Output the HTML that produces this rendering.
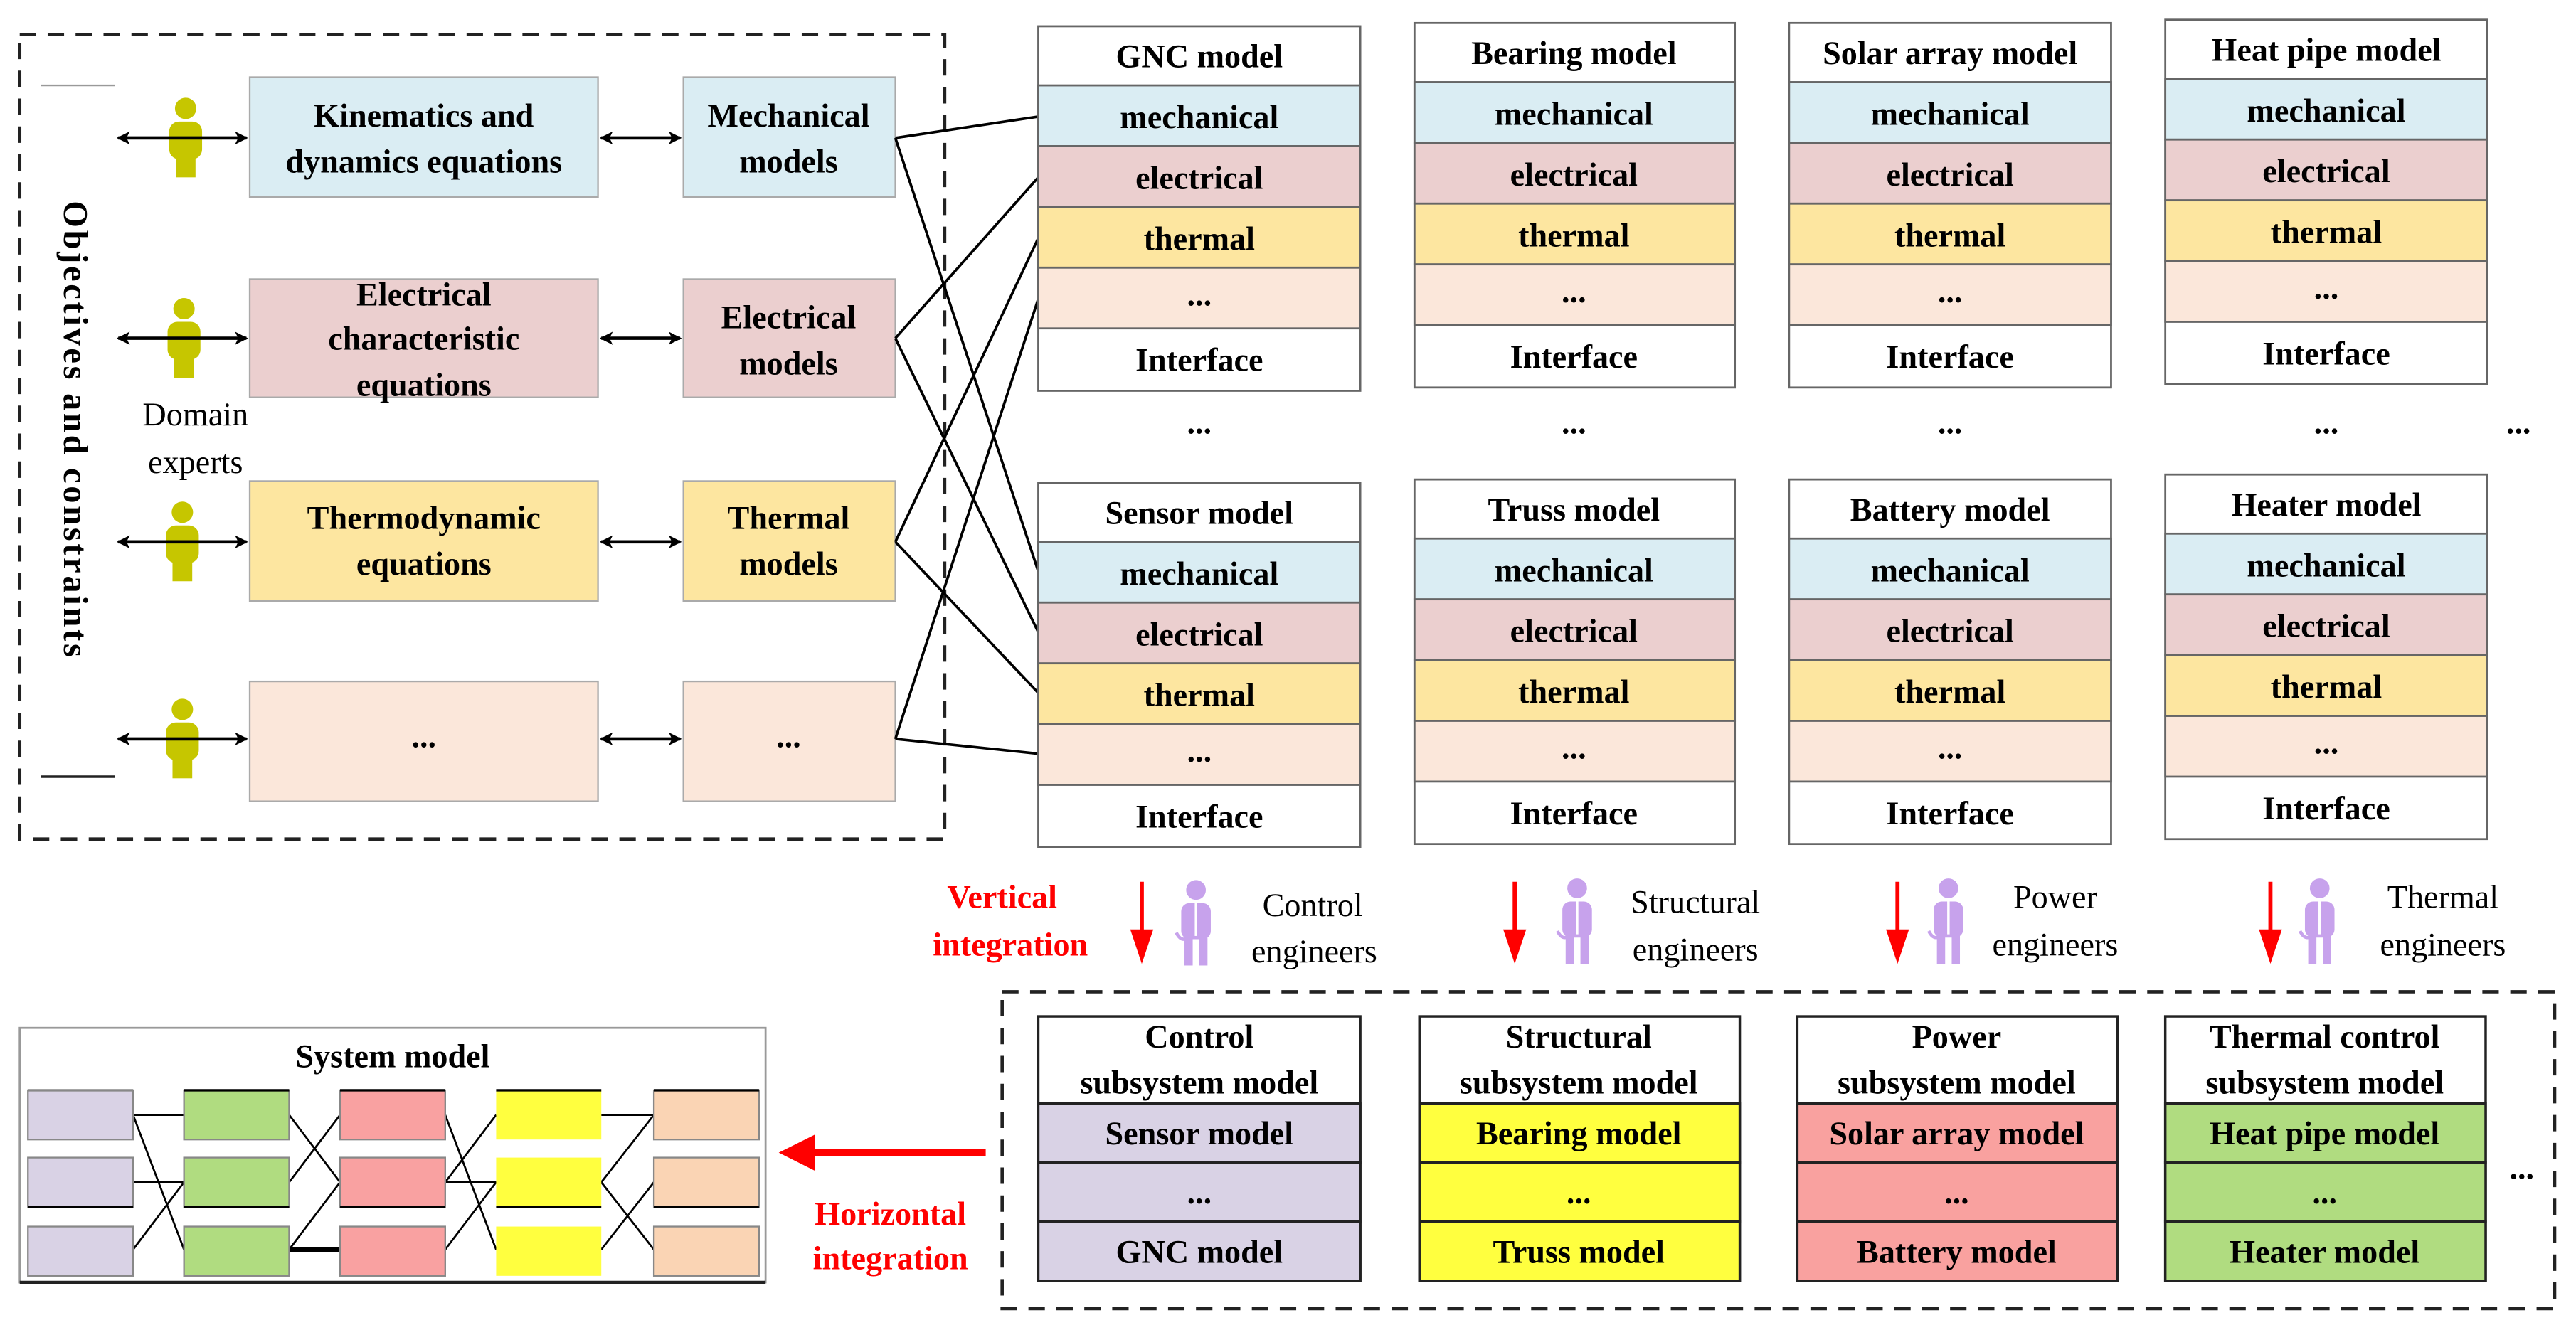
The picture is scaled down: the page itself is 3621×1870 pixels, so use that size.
<!DOCTYPE html>
<html><head><meta charset="utf-8"><style>
html,body{margin:0;padding:0;background:#fff;}
svg{display:block;}
text{font-family:"Liberation Serif",serif;}
.b{font-weight:bold;font-size:20px;text-anchor:middle;}
.n{font-size:20px;text-anchor:middle;}
</style></head><body>
<svg width="3621" height="1870" viewBox="0 0 1568 810" preserveAspectRatio="none" xmlns="http://www.w3.org/2000/svg">
<defs>
<marker id="ah" markerWidth="8" markerHeight="8" refX="7" refY="4" orient="auto" markerUnits="userSpaceOnUse"><path d="M0,0 L8,4 L0,8 L2,4z" fill="#000"/></marker>
<marker id="ahs" markerWidth="8" markerHeight="8" refX="1" refY="4" orient="auto" markerUnits="userSpaceOnUse"><path d="M8,0 L0,4 L8,8 L6,4z" fill="#000"/></marker>
<g id="person"><circle cx="0" cy="-18" r="6.5"/><rect x="-10" y="-10" width="20" height="23" rx="6"/><rect x="-6" y="8" width="12" height="16"/></g>
<g id="eng"><circle cx="0" cy="-20" r="6"/><rect x="-9" y="-12" width="18" height="22" rx="5"/><rect x="-7" y="8" width="5" height="18"/><rect x="2" y="8" width="5" height="18"/><path d="M-12,6 q4,8 10,0" stroke="#c7a2ec" stroke-width="2" fill="none"/><line x1="0" y1="-12" x2="0" y2="8" stroke="#fff" stroke-width="1.5"/></g>
</defs>

<rect x="12" y="21" width="563" height="490" fill="none" stroke="#222" stroke-width="2" stroke-dasharray="10,7"/>
<line x1="25" y1="52" x2="70" y2="52" stroke="#999" stroke-width="1"/>
<line x1="25" y1="473" x2="70" y2="473" stroke="#222" stroke-width="1.5"/>
<text transform="translate(39,262) rotate(90)" style="font-weight:bold;font-size:21px;text-anchor:middle;letter-spacing:1.6px">Objectives and constraints</text>

<g fill="#c6c600">
<use href="#person" x="113" y="84"/><use href="#person" x="112" y="206"/><use href="#person" x="111" y="330"/><use href="#person" x="111" y="450"/>
</g>
<g stroke="#000" stroke-width="2">
<line x1="72" y1="84" x2="150" y2="84" marker-start="url(#ahs)" marker-end="url(#ah)"/>
<line x1="72" y1="206" x2="150" y2="206" marker-start="url(#ahs)" marker-end="url(#ah)"/>
<line x1="72" y1="330" x2="150" y2="330" marker-start="url(#ahs)" marker-end="url(#ah)"/>
<line x1="72" y1="450" x2="150" y2="450" marker-start="url(#ahs)" marker-end="url(#ah)"/>
<line x1="366" y1="84" x2="414" y2="84" marker-start="url(#ahs)" marker-end="url(#ah)"/>
<line x1="366" y1="206" x2="414" y2="206" marker-start="url(#ahs)" marker-end="url(#ah)"/>
<line x1="366" y1="330" x2="414" y2="330" marker-start="url(#ahs)" marker-end="url(#ah)"/>
<line x1="366" y1="450" x2="414" y2="450" marker-start="url(#ahs)" marker-end="url(#ah)"/>
</g>
<text x="119" y="259" class="n">Domain</text>
<text x="119" y="288" class="n">experts</text>

<g stroke="#aaa" stroke-width="1">
<rect x="152" y="47" width="212" height="73" fill="#daedf3"/>
<rect x="416" y="47" width="129" height="73" fill="#daedf3"/>
<rect x="152" y="170" width="212" height="72" fill="#ebcfcf"/>
<rect x="416" y="170" width="129" height="72" fill="#ebcfcf"/>
<rect x="152" y="293" width="212" height="73" fill="#fde6a0"/>
<rect x="416" y="293" width="129" height="73" fill="#fde6a0"/>
<rect x="152" y="415" width="212" height="73" fill="#fbe7da"/>
<rect x="416" y="415" width="129" height="73" fill="#fbe7da"/>
</g>
<text x="258" y="77" class="b">Kinematics and</text>
<text x="258" y="105" class="b">dynamics equations</text>
<text x="480" y="77" class="b">Mechanical</text>
<text x="480" y="105" class="b">models</text>
<text x="258" y="186" class="b">Electrical</text>
<text x="258" y="213" class="b">characteristic</text>
<text x="258" y="241" class="b">equations</text>
<text x="480" y="200" class="b">Electrical</text>
<text x="480" y="228" class="b">models</text>
<text x="258" y="322" class="b">Thermodynamic</text>
<text x="258" y="350" class="b">equations</text>
<text x="480" y="322" class="b">Thermal</text>
<text x="480" y="350" class="b">models</text>
<text x="258" y="455" class="b">...</text>
<text x="480" y="455" class="b">...</text>

<g stroke="#000" stroke-width="1.6">
<line x1="545" y1="84" x2="632" y2="71"/>
<line x1="545" y1="84" x2="632" y2="348"/>
<line x1="545" y1="206" x2="632" y2="108"/>
<line x1="545" y1="206" x2="632" y2="385"/>
<line x1="545" y1="330" x2="632" y2="145"/>
<line x1="545" y1="330" x2="632" y2="422"/>
<line x1="545" y1="450" x2="632" y2="182"/>
<line x1="545" y1="450" x2="632" y2="459"/>
</g>

<g stroke="#666" stroke-width="1.2">
<g transform="translate(632,16)"><rect width="196" height="222" fill="#fff"/><rect y="36" width="196" height="37" fill="#daedf3"/><rect y="73" width="196" height="37" fill="#ebcfcf"/><rect y="110" width="196" height="37" fill="#fde6a0"/><rect y="147" width="196" height="37" fill="#fbe7da"/></g>
<g transform="translate(861,14)"><rect width="195" height="222" fill="#fff"/><rect y="36" width="195" height="37" fill="#daedf3"/><rect y="73" width="195" height="37" fill="#ebcfcf"/><rect y="110" width="195" height="37" fill="#fde6a0"/><rect y="147" width="195" height="37" fill="#fbe7da"/></g>
<g transform="translate(1089,14)"><rect width="196" height="222" fill="#fff"/><rect y="36" width="196" height="37" fill="#daedf3"/><rect y="73" width="196" height="37" fill="#ebcfcf"/><rect y="110" width="196" height="37" fill="#fde6a0"/><rect y="147" width="196" height="37" fill="#fbe7da"/></g>
<g transform="translate(1318,12)"><rect width="196" height="222" fill="#fff"/><rect y="36" width="196" height="37" fill="#daedf3"/><rect y="73" width="196" height="37" fill="#ebcfcf"/><rect y="110" width="196" height="37" fill="#fde6a0"/><rect y="147" width="196" height="37" fill="#fbe7da"/></g>
<g transform="translate(632,294)"><rect width="196" height="222" fill="#fff"/><rect y="36" width="196" height="37" fill="#daedf3"/><rect y="73" width="196" height="37" fill="#ebcfcf"/><rect y="110" width="196" height="37" fill="#fde6a0"/><rect y="147" width="196" height="37" fill="#fbe7da"/></g>
<g transform="translate(861,292)"><rect width="195" height="222" fill="#fff"/><rect y="36" width="195" height="37" fill="#daedf3"/><rect y="73" width="195" height="37" fill="#ebcfcf"/><rect y="110" width="195" height="37" fill="#fde6a0"/><rect y="147" width="195" height="37" fill="#fbe7da"/></g>
<g transform="translate(1089,292)"><rect width="196" height="222" fill="#fff"/><rect y="36" width="196" height="37" fill="#daedf3"/><rect y="73" width="196" height="37" fill="#ebcfcf"/><rect y="110" width="196" height="37" fill="#fde6a0"/><rect y="147" width="196" height="37" fill="#fbe7da"/></g>
<g transform="translate(1318,289)"><rect width="196" height="222" fill="#fff"/><rect y="36" width="196" height="37" fill="#daedf3"/><rect y="73" width="196" height="37" fill="#ebcfcf"/><rect y="110" width="196" height="37" fill="#fde6a0"/><rect y="147" width="196" height="37" fill="#fbe7da"/></g>
</g>
<g>
<g transform="translate(730,16)"><text y="25" class="b">GNC model</text><text y="62" class="b">mechanical</text><text y="99" class="b">electrical</text><text y="136" class="b">thermal</text><text y="170" class="b">...</text><text y="210" class="b">Interface</text></g>
<g transform="translate(958,14)"><text y="25" class="b">Bearing model</text><text y="62" class="b">mechanical</text><text y="99" class="b">electrical</text><text y="136" class="b">thermal</text><text y="170" class="b">...</text><text y="210" class="b">Interface</text></g>
<g transform="translate(1187,14)"><text y="25" class="b">Solar array model</text><text y="62" class="b">mechanical</text><text y="99" class="b">electrical</text><text y="136" class="b">thermal</text><text y="170" class="b">...</text><text y="210" class="b">Interface</text></g>
<g transform="translate(1416,12)"><text y="25" class="b">Heat pipe model</text><text y="62" class="b">mechanical</text><text y="99" class="b">electrical</text><text y="136" class="b">thermal</text><text y="170" class="b">...</text><text y="210" class="b">Interface</text></g>
<g transform="translate(730,294)"><text y="25" class="b">Sensor model</text><text y="62" class="b">mechanical</text><text y="99" class="b">electrical</text><text y="136" class="b">thermal</text><text y="170" class="b">...</text><text y="210" class="b">Interface</text></g>
<g transform="translate(958,292)"><text y="25" class="b">Truss model</text><text y="62" class="b">mechanical</text><text y="99" class="b">electrical</text><text y="136" class="b">thermal</text><text y="170" class="b">...</text><text y="210" class="b">Interface</text></g>
<g transform="translate(1187,292)"><text y="25" class="b">Battery model</text><text y="62" class="b">mechanical</text><text y="99" class="b">electrical</text><text y="136" class="b">thermal</text><text y="170" class="b">...</text><text y="210" class="b">Interface</text></g>
<g transform="translate(1416,289)"><text y="25" class="b">Heater model</text><text y="62" class="b">mechanical</text><text y="99" class="b">electrical</text><text y="136" class="b">thermal</text><text y="170" class="b">...</text><text y="210" class="b">Interface</text></g>
</g>
<text x="730" y="264" class="b">...</text><text x="958" y="264" class="b">...</text><text x="1187" y="264" class="b">...</text><text x="1416" y="264" class="b">...</text><text x="1533" y="264" class="b">...</text>

<text x="610" y="553" class="b" style="fill:#f00">Vertical</text>
<text x="615" y="582" class="b" style="fill:#f00">integration</text>
<g fill="#f00" stroke="#f00" stroke-width="2.5">
<line x1="695" y1="537" x2="695" y2="568"/><path d="M688,566 L702,566 L695,587z" stroke="none"/>
<line x1="922" y1="537" x2="922" y2="568"/><path d="M915,566 L929,566 L922,587z" stroke="none"/>
<line x1="1155" y1="537" x2="1155" y2="568"/><path d="M1148,566 L1162,566 L1155,587z" stroke="none"/>
<line x1="1382" y1="537" x2="1382" y2="568"/><path d="M1375,566 L1389,566 L1382,587z" stroke="none"/>
</g>
<g fill="#c7a2ec">
<use href="#eng" x="728" y="562"/><use href="#eng" x="960" y="561"/><use href="#eng" x="1186" y="561"/><use href="#eng" x="1412" y="561"/>
</g>
<text x="799" y="558" class="n">Control</text><text x="800" y="586" class="n">engineers</text>
<text x="1032" y="556" class="n">Structural</text><text x="1032" y="585" class="n">engineers</text>
<text x="1251" y="553" class="n">Power</text><text x="1251" y="582" class="n">engineers</text>
<text x="1487" y="553" class="n">Thermal</text><text x="1487" y="582" class="n">engineers</text>

<rect x="610" y="604" width="945" height="193" fill="none" stroke="#222" stroke-width="2" stroke-dasharray="10,7"/>
<g stroke="#222" stroke-width="1.5">
<g transform="translate(632,619)"><rect width="196" height="161" fill="#fff"/><rect y="53" width="196" height="36" fill="#d9d2e5"/><rect y="89" width="196" height="36" fill="#d9d2e5"/><rect y="125" width="196" height="36" fill="#d9d2e5"/></g>
<g transform="translate(864,619)"><rect width="195" height="161" fill="#fff"/><rect y="53" width="195" height="36" fill="#ffff3f"/><rect y="89" width="195" height="36" fill="#ffff3f"/><rect y="125" width="195" height="36" fill="#ffff3f"/></g>
<g transform="translate(1094,619)"><rect width="195" height="161" fill="#fff"/><rect y="53" width="195" height="36" fill="#f9a19f"/><rect y="89" width="195" height="36" fill="#f9a19f"/><rect y="125" width="195" height="36" fill="#f9a19f"/></g>
<g transform="translate(1318,619)"><rect width="195" height="161" fill="#fff"/><rect y="53" width="195" height="36" fill="#b0dc80"/><rect y="89" width="195" height="36" fill="#b0dc80"/><rect y="125" width="195" height="36" fill="#b0dc80"/></g>
</g>
<g transform="translate(730,619)"><text y="19" class="b">Control</text><text y="47" class="b">subsystem model</text><text y="78" class="b">Sensor model</text><text y="114" class="b">...</text><text y="150" class="b">GNC model</text></g>
<g transform="translate(961,619)"><text y="19" class="b">Structural</text><text y="47" class="b">subsystem model</text><text y="78" class="b">Bearing model</text><text y="114" class="b">...</text><text y="150" class="b">Truss model</text></g>
<g transform="translate(1191,619)"><text y="19" class="b">Power</text><text y="47" class="b">subsystem model</text><text y="78" class="b">Solar array model</text><text y="114" class="b">...</text><text y="150" class="b">Battery model</text></g>
<g transform="translate(1415,619)"><text y="19" class="b">Thermal control</text><text y="47" class="b">subsystem model</text><text y="78" class="b">Heat pipe model</text><text y="114" class="b">...</text><text y="150" class="b">Heater model</text></g>
<text x="1535" y="718" class="b">...</text>

<line x1="600" y1="702" x2="492" y2="702" stroke="#f00" stroke-width="4"/>
<path d="M474,702 L496,691 L496,713z" fill="#f00"/>
<text x="542" y="746" class="b" style="fill:#f00">Horizontal</text>
<text x="542" y="773" class="b" style="fill:#f00">integration</text>

<rect x="12" y="626" width="454" height="155" fill="#fff" stroke="#999" stroke-width="1.2"/>
<line x1="12" y1="781" x2="466" y2="781" stroke="#222" stroke-width="2"/>
<text x="239" y="650" class="b">System model</text>
<g stroke="#000" stroke-width="1.2">
<line x1="81" y1="679" x2="112" y2="679"/><line x1="81" y1="679" x2="112" y2="761"/><line x1="81" y1="720" x2="112" y2="720"/><line x1="81" y1="761" x2="112" y2="720"/>
<line x1="176" y1="679" x2="207" y2="720"/><line x1="176" y1="720" x2="207" y2="679"/><line x1="176" y1="761" x2="207" y2="720"/><line x1="176" y1="761" x2="207" y2="761" stroke-width="3"/>
<line x1="271" y1="679" x2="302" y2="761"/><line x1="271" y1="720" x2="302" y2="679"/><line x1="271" y1="720" x2="302" y2="720"/><line x1="271" y1="761" x2="302" y2="720"/>
<line x1="366" y1="679" x2="398" y2="679"/><line x1="366" y1="720" x2="398" y2="679"/><line x1="366" y1="720" x2="398" y2="761"/><line x1="366" y1="761" x2="398" y2="720"/>
</g>
<g stroke="#888" stroke-width="1">
<rect x="17" y="664" width="64" height="30" fill="#d9d2e5"/><rect x="17" y="705" width="64" height="30" fill="#d9d2e5"/><rect x="17" y="747" width="64" height="30" fill="#d9d2e5"/>
<rect x="112" y="664" width="64" height="30" fill="#b0dc80"/><rect x="112" y="705" width="64" height="30" fill="#b0dc80"/><rect x="112" y="747" width="64" height="30" fill="#b0dc80"/>
<rect x="207" y="664" width="64" height="30" fill="#f9a1a1"/><rect x="207" y="705" width="64" height="30" fill="#f9a1a1"/><rect x="207" y="747" width="64" height="30" fill="#f9a1a1"/>
<rect x="302" y="664" width="64" height="30" fill="#ffff3f" stroke="none"/><rect x="302" y="705" width="64" height="30" fill="#ffff3f" stroke="none"/><rect x="302" y="747" width="64" height="30" fill="#ffff3f" stroke="none"/>
<rect x="398" y="664" width="64" height="30" fill="#fad4b4"/><rect x="398" y="705" width="64" height="30" fill="#fad4b4"/><rect x="398" y="747" width="64" height="30" fill="#fad4b4"/>
</g>
<g stroke="#000" stroke-width="1.5">
<line x1="17" y1="664" x2="81" y2="664" stroke="#888"/>
<line x1="112" y1="664" x2="176" y2="664"/><line x1="207" y1="664" x2="271" y2="664"/><line x1="302" y1="664" x2="366" y2="664"/><line x1="398" y1="664" x2="462" y2="664"/>
<line x1="17" y1="735" x2="81" y2="735"/><line x1="112" y1="735" x2="176" y2="735"/><line x1="207" y1="735" x2="271" y2="735"/><line x1="302" y1="735" x2="366" y2="735"/><line x1="398" y1="735" x2="462" y2="735"/>
</g>
</svg>
</body></html>
